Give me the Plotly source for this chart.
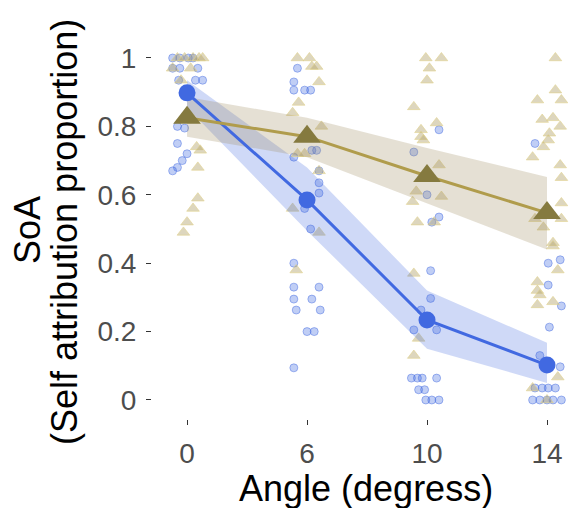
import plotly.graph_objects as go

# ---- data ----
angle_labels = ["0", "6", "10", "14"]
angle_pos = [0, 1, 2, 3]

# condition means (SoA proportion)
blue_mean = [0.898, 0.585, 0.234, 0.102]
blue_upper = [0.935, 0.680, 0.320, 0.167]
blue_lower = [0.855, 0.495, 0.150, 0.050]

tan_mean = [0.825, 0.770, 0.655, 0.547]
tan_upper = [0.886, 0.825, 0.737, 0.652]
tan_lower = [0.770, 0.710, 0.576, 0.440]

# individual (jittered) observations: position = angle index + jitter
blue_x = [
    -0.12, -0.06, 0.01, 0.05, -0.12, -0.06, 0.09, -0.07, 0.07, 0.13, -0.08, -0.02, -0.08, 0.0, -0.04, -0.08, -0.12,
    0.92, 0.89, 0.89, 0.98, 1.03, 1.04, 1.08, 0.89, 1.10, 1.10, 1.10, 0.98, 1.03, 0.89, 0.89, 1.10, 0.89, 1.04, 0.91, 1.11, 1.00, 1.06, 0.89,
    2.10, 1.89, 2.00, 2.04, 2.10, 2.03, 2.03, 1.95, 1.89, 2.08, 1.87, 1.92, 1.96, 2.08, 1.93, 1.98, 1.99, 2.04, 2.10,
    2.90, 3.01, 3.11, 3.01, 3.12, 3.02, 2.94, 3.11, 2.90, 2.96, 3.01, 3.07, 2.88, 2.94, 3.00, 3.05, 3.12,
]
blue_y = [
    1.0, 1.0, 1.0, 1.0, 0.97, 0.97, 0.97, 0.935, 0.935, 0.935, 0.80, 0.795, 0.75, 0.72, 0.70, 0.68, 0.67,
    0.97, 0.93, 0.906, 0.906, 0.906, 0.73, 0.73, 0.71, 0.67, 0.635, 0.605, 0.56, 0.50, 0.40, 0.33, 0.33, 0.295, 0.295, 0.263, 0.263, 0.20, 0.20, 0.094,
    0.79, 0.725, 0.60, 0.52, 0.535, 0.378, 0.297, 0.263, 0.205, 0.205, 0.064, 0.064, 0.064, 0.064, 0.03, 0.03, 0.0, 0.0, 0.0,
    0.75, 0.40, 0.41, 0.336, 0.275, 0.213, 0.13, 0.097, 0.035, 0.035, 0.035, 0.035, 0.0, 0.0, 0.0, 0.0, 0.0,
]

tan_x = [
    -0.08, -0.02, 0.05, 0.10, 0.13, -0.12, 0.03, -0.05, 0.08, 0.11, 0.09, 0.09, 0.05, 0.0, -0.03,
    0.92, 1.02, 1.04, 1.08, 1.10, 0.93, 0.88, 1.12, 0.92, 0.98, 1.10, 0.88, 1.10, 0.91,
    1.99, 2.12, 2.02, 2.00, 1.89, 2.08, 1.95, 1.95, 1.97, 2.10, 1.91, 1.88, 2.12, 1.92, 2.06, 1.89, 1.93, 1.89,
    3.07, 3.07, 2.92, 3.12, 2.96, 3.05, 3.11, 3.02, 3.01, 2.97, 2.88, 3.11, 3.12, 3.12, 3.12, 2.90, 2.97, 3.05, 3.05, 3.09, 2.92, 2.92, 2.94, 2.92, 3.05, 3.09, 2.88, 3.00,
]
tan_y = [
    1.0, 1.0, 1.0, 1.0, 1.0, 0.97, 0.97, 0.935, 0.74, 0.73, 0.68, 0.59, 0.56, 0.52, 0.49,
    1.0, 1.0, 0.975, 0.975, 0.93, 0.87, 0.84, 0.80, 0.72, 0.72, 0.67, 0.56, 0.49, 0.38,
    1.0, 1.0, 0.97, 0.935, 0.857, 0.81, 0.79, 0.77, 0.76, 0.687, 0.61, 0.58, 0.595, 0.52, 0.52, 0.37, 0.18, 0.13,
    1.0, 0.906, 0.877, 0.877, 0.82, 0.825, 0.80, 0.78, 0.76, 0.74, 0.71, 0.687, 0.65, 0.576, 0.53, 0.53, 0.505, 0.46, 0.45, 0.38, 0.345, 0.32, 0.307, 0.278, 0.287, 0.067, 0.035, 0.0,
]

y_ticks = [0, 0.2, 0.4, 0.6, 0.8, 1.0]
y_ticktext = ["0", "0.2", "0.4", "0.6", "0.8", "1"]

BLUE = "#4169E1"
TAN_LINE = "#b09c4c"
TAN_PT = "#857a3f"
FONT = "Liberation Sans, Arial, sans-serif"

fig = go.Figure()

fig.add_trace(go.Scatter(
    x=blue_x, y=blue_y, mode="markers",
    marker=dict(symbol="circle", size=8, color="rgba(65,105,225,0.33)",
                line=dict(color="rgba(65,105,225,0.45)", width=1)),
    hoverinfo="skip", showlegend=False))
fig.add_trace(go.Scatter(
    x=tan_x, y=tan_y, mode="markers",
    marker=dict(symbol="triangle-up", size=11, color="rgba(180,165,110,0.45)",
                line=dict(color="rgba(225,210,140,0.6)", width=1)),
    hoverinfo="skip", showlegend=False))

# ribbons
fig.add_trace(go.Scatter(
    x=angle_pos + angle_pos[::-1], y=blue_upper + blue_lower[::-1],
    fill="toself", fillcolor="rgba(65,105,225,0.25)", mode="lines",
    line=dict(width=0), hoverinfo="skip", showlegend=False))
fig.add_trace(go.Scatter(
    x=angle_pos + angle_pos[::-1], y=tan_upper + tan_lower[::-1],
    fill="toself", fillcolor="rgba(160,145,100,0.28)", mode="lines",
    line=dict(width=0), hoverinfo="skip", showlegend=False))

# mean lines + points
fig.add_trace(go.Scatter(
    x=angle_pos, y=blue_mean, mode="lines+markers",
    line=dict(color=BLUE, width=3),
    marker=dict(symbol="circle", size=17, color=BLUE),
    hoverinfo="skip", showlegend=False))
fig.add_trace(go.Scatter(
    x=angle_pos, y=tan_mean, mode="lines",
    line=dict(color=TAN_LINE, width=3),
    hoverinfo="skip", showlegend=False))
fig.add_trace(go.Scatter(
    x=angle_pos, y=tan_mean, mode="markers",
    marker=dict(symbol="triangle-up", size=24, color=TAN_PT),
    hoverinfo="skip", showlegend=False))

# the page body adds an 8px offset; margins compensate for it
fig.update_layout(
    width=584, height=508,
    margin=dict(l=144, r=12, t=32, b=97),
    paper_bgcolor="white", plot_bgcolor="white",
    font=dict(family=FONT),
    xaxis=dict(range=[-0.292, 3.275], tickmode="array", tickvals=angle_pos,
               ticktext=angle_labels, ticks="outside", ticklen=5, tickwidth=1,
               tickcolor="#333333", showgrid=False, zeroline=False, showline=False,
               ticklabelstandoff=4,
               tickfont=dict(size=28, color="#4d4d4d", family=FONT)),
    yaxis=dict(range=[-0.0556, 1.0526], tickmode="array", tickvals=y_ticks,
               ticktext=y_ticktext, ticks="outside", ticklen=5, tickwidth=1,
               tickcolor="#333333", showgrid=False, zeroline=False, showline=False,
               ticklabelstandoff=4,
               tickfont=dict(size=28, color="#4d4d4d", family=FONT)),
    annotations=[
        dict(text="Angle (degress)", xref="paper", yref="paper",
             x=0.501, y=-0.183, xanchor="center", yanchor="middle", showarrow=False,
             font=dict(size=36, color="black", family=FONT)),
        dict(text="SoA", xref="paper", yref="paper",
             x=(27 - 152) / 428, y=(419 - 230) / 379, xanchor="center", yanchor="middle",
             showarrow=False, textangle=-90,
             font=dict(size=36, color="black", family=FONT)),
        dict(text="(Self attribution proportion)", xref="paper", yref="paper",
             x=(64 - 152) / 428, y=(419 - 232) / 379, xanchor="center", yanchor="middle",
             showarrow=False, textangle=-90,
             font=dict(size=36, color="black", family=FONT)),
    ],
)

fig.write_html("out.html")
